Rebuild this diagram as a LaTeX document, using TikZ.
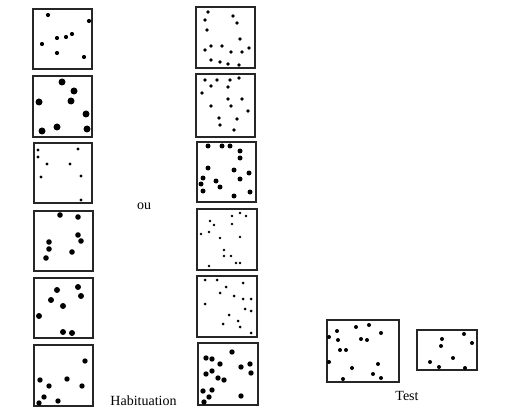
\documentclass[tikz,border=0pt]{standalone}
\usepackage{fontspec}
\setmainfont{Liberation Serif}
\begin{document}
\begin{tikzpicture}[x=1pt,y=-1pt,
  frame/.style={draw=black!85,line width=1.3pt},
  lbl/.style={font=\fontsize{14}{16}\selectfont,inner sep=0pt}]
\useasboundingbox (0,0) rectangle (530,417);
% left column frames
\draw[frame] (33,9) rectangle (92,69);
\draw[frame] (33,76) rectangle (92,137);
\draw[frame] (34,143) rectangle (92,203);
\draw[frame] (34,211) rectangle (93,271);
\draw[frame] (34,278) rectangle (93,338);
\draw[frame] (34,345) rectangle (93,406);
% middle column frames
\draw[frame] (196,7) rectangle (255,68);
\draw[frame] (196,74) rectangle (255,137);
\draw[frame] (197,142) rectangle (256,202);
\draw[frame] (197,209) rectangle (257,270);
\draw[frame] (197,276) rectangle (257,337);
\draw[frame] (198,343) rectangle (258,405);
% test frames
\draw[frame] (327,320) rectangle (399,382);
\draw[frame] (417,330) rectangle (477,370);
% dots: left column
\foreach \p in {(48,15),(89,21),(72,34),(66,37),(57,38),(42,44),(57,53),(84,57)}
  \fill \p circle (2.1);
\foreach \p in {(62,82),(74,91),(39,102),(71,101),(86,114),(57,127),(42,131),(87,129)}
  \fill \p circle (3.5);
\foreach \p in {(38,150),(78,149),(38,157),(47,164),(70,164),(41,177),(81,176),(81,200)}
  \fill \p circle (1.7);
\foreach \p in {(60,215),(78,217),(78,235),(81,241),(49,242),(49,249),(46,258),(72,252)}
  \fill \p circle (2.8);
\foreach \p in {(57,290),(78,287),(51,300),(81,296),(63,306),(39,316),(63,332),(72,333)}
  \fill \p circle (3);
\foreach \p in {(85,361),(40,380),(67,379),(49,386),(82,386),(44,397),(39,403),(58,401)}
  \fill \p circle (2.7);
% dots: middle column
\foreach \p in {(208,12),(233,16),(205,20),(237,23),(207,30),(240,39),(211,46),(222,46),(205,50),(231,52),(242,52),(249,48),(211,60),(220,62),(228,64),(239,65)}
  \fill \p circle (1.8);
\foreach \p in {(205,80),(217,80),(230,80),(239,78),(211,86),(228,87),(202,93),(228,99),(242,99),(211,106),(231,106),(248,111),(219,118),(237,119),(220,125),(234,130)}
  \fill \p circle (1.8);
\foreach \p in {(208,146),(222,146),(230,146),(240,151),(240,158),(208,168),(234,170),(249,173),(203,178),(216,181),(240,179),(201,184),(220,187),(203,191),(234,196),(250,192)}
  \fill \p circle (2.5);
\foreach \p in {(240,213),(232,216),(246,216),(210,221),(214,225),(232,224),(201,234),(209,232),(220,238),(240,237),(224,250),(224,256),(231,256),(236,263),(240,263),(209,266)}
  \fill \p circle (1.3);
\foreach \p in {(205,280),(217,280),(243,283),(226,287),(220,293),(234,296),(243,299),(251,299),(205,304),(245,309),(251,311),(229,315),(238,321),(223,324),(240,327),(251,333)}
  \fill \p circle (1.5);
\foreach \p in {(232,352),(206,358),(212,359),(220,364),(241,367),(250,364),(206,374),(212,371),(251,373),(218,378),(224,380),(203,391),(212,390),(209,397),(241,396),(204,402)}
  \fill \p circle (2.7);
% dots: test
\foreach \p in {(337,331),(356,327),(369,325),(381,333),(329,337),(338,340),(361,339),(367,340),(340,350),(346,350),(329,362),(378,364),(352,368),(373,374),(381,378),(343,379)}
  \fill \p circle (2);
\foreach \p in {(442,339),(464,334),(472,343),(441,346),(453,358),(430,362),(439,367),(465,368)}
  \fill \p circle (2);
% labels
\node[lbl] (ou) at (144,206) {ou};
\node[lbl] (hab) at (143.5,401) {Habituation};
\node[lbl] (test) at (407,396) {Test};
\end{tikzpicture}
\end{document}
